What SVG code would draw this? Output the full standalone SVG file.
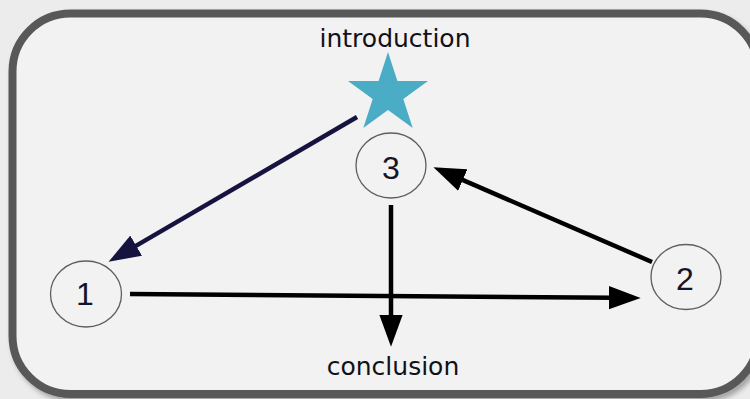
<svg xmlns="http://www.w3.org/2000/svg" width="750" height="399" viewBox="0 0 750 399">
  <style>
    .label { font-family: "DejaVu Sans", "Liberation Sans", sans-serif; font-size: 25px; fill: #111118; text-anchor: middle; }
    .num { font-family: "Liberation Sans", "DejaVu Sans", sans-serif; font-size: 32px; fill: #15152a; text-anchor: middle; }
    .node { fill: #f2f2f2; stroke: #5e5e5e; stroke-width: 1.3; }
    .conn { fill: none; stroke-width: 4.5; }
  </style>
  <defs>
    <marker id="headBlack" markerUnits="userSpaceOnUse" markerWidth="32" markerHeight="24" viewBox="0 0 30 22" refX="5" refY="11" orient="auto">
      <path d="M0,0 L30,11 L0,22 z" fill="#000"/>
    </marker>
    <marker id="headNavy" markerUnits="userSpaceOnUse" markerWidth="32" markerHeight="24" viewBox="0 0 30 22" refX="5" refY="11" orient="auto">
      <path d="M0,0 L30,11 L0,22 z" fill="#16133f"/>
    </marker>
    <filter id="shadow" x="-5%" y="-5%" width="115%" height="115%">
      <feDropShadow dx="3" dy="4" stdDeviation="2.5" flood-color="#000" flood-opacity="0.3"/>
    </filter>
  </defs>

  <rect x="0" y="0" width="750" height="399" fill="#ececec"/>
  <rect id="frame" x="12.5" y="13.5" width="746" height="380.5" rx="58" ry="58" fill="#f2f2f2" stroke="#595959" stroke-width="8" filter="url(#shadow)"/>

  <g id="connectors">
    <line class="conn" x1="357" y1="117" x2="131.6" y2="248.4" stroke="#16133f" marker-end="url(#headNavy)"/>
    <line class="conn" x1="130" y1="294" x2="614" y2="297.8" stroke="#000" marker-end="url(#headBlack)"/>
    <line class="conn" x1="391" y1="205" x2="391" y2="320" stroke="#000" marker-end="url(#headBlack)"/>
    <line class="conn" x1="652" y1="262" x2="457.9" y2="177.9" stroke="#000" marker-end="url(#headBlack)"/>
  </g>

  <g id="introduction">
    <polygon points="388,52 397.4,81 428,81 403.3,99 412.7,128 388,110 363.3,128 372.7,99 348,81 378.6,81" fill="#4bacc6"/>
    <text class="label" x="395" y="47">introduction</text>
  </g>

  <g id="node3">
    <ellipse class="node" cx="391" cy="165.5" rx="35" ry="32.5"/>
    <text class="num" x="391" y="179">3</text>
  </g>

  <g id="node1">
    <ellipse class="node" cx="86" cy="294" rx="35.5" ry="33"/>
    <text class="num" x="85" y="305">1</text>
  </g>

  <g id="node2">
    <ellipse class="node" cx="686" cy="277" rx="35" ry="32.5"/>
    <text class="num" x="685" y="290">2</text>
  </g>

  <g id="conclusion">
    <text class="label" x="393" y="375">conclusion</text>
  </g>
</svg>
